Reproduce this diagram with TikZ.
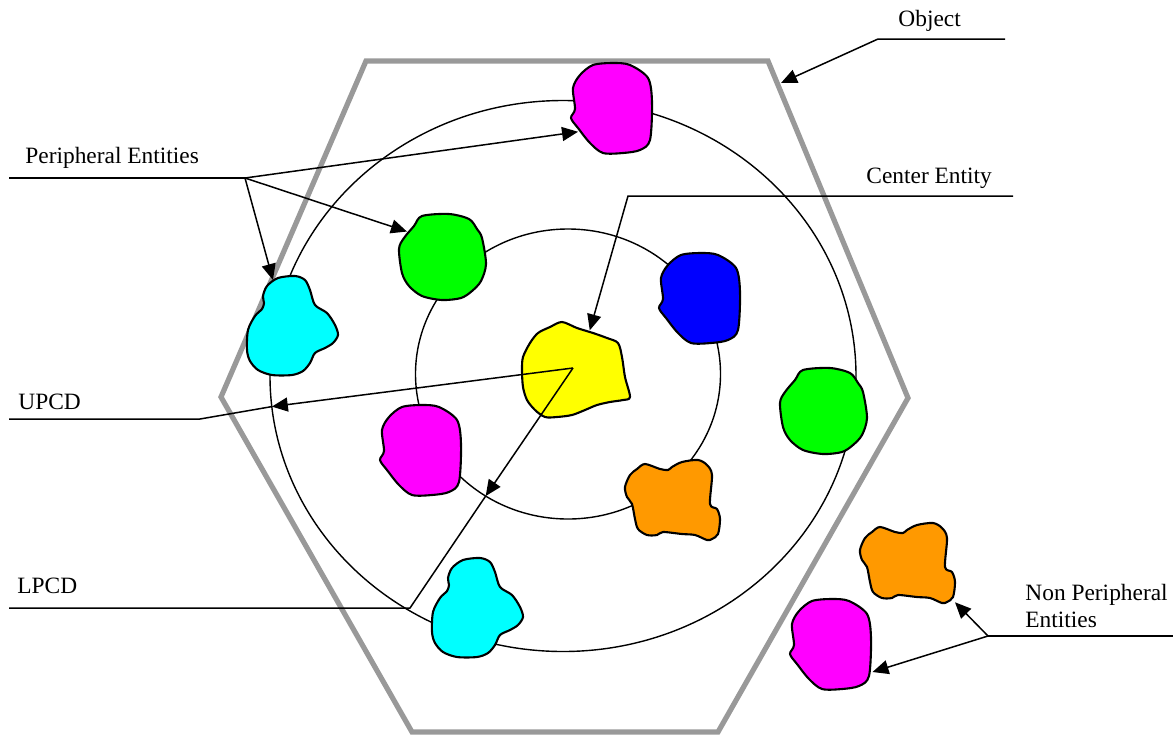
\documentclass[tikz,border=0pt]{standalone}
\usepackage{fontspec}
\setmainfont{Liberation Serif}
\usepackage{tikz}
\usetikzlibrary{arrows.meta,shapes.geometric}
\definecolor{hexgray}{RGB}{153,153,153}
\definecolor{bmagenta}{RGB}{255,0,255}
\definecolor{bgreen}{RGB}{0,255,0}
\definecolor{bcyan}{RGB}{0,255,255}
\definecolor{bblue}{RGB}{0,0,255}
\definecolor{byellow}{RGB}{255,255,0}
\definecolor{borange}{RGB}{255,153,0}
\tikzset{
  hexa/.style    ={draw=hexgray, line width=2.6pt, line join=miter},
  ring/.style    ={ellipse, draw, line width=0.7pt, inner sep=0pt, outer sep=0pt},
  spot/.style    ={ellipse, inner sep=0pt, outer sep=0pt},
  blobline/.style={draw=black, line width=1.05pt, line join=round},
  ar/.style      ={-{Triangle[length=8pt,width=7pt]}, line width=0.75pt},
  ld/.style      ={line width=0.75pt},
  lbl/.style     ={anchor=base west, inner sep=0pt, font=\fontsize{11.7}{14}\selectfont},
  blobA/.pic={\draw[blobline, fill=#1] plot[smooth cycle, tension=0.5] coordinates
    {(-19,-43) (1,-45) (18,-43) (36,-30) (40,-6) (38,32) (28,42) (11,45) (-9,45)
     (-22,35) (-34,20) (-41,10) (-37,1) (-39,-20) (-32,-33)};},
  blobB/.pic={\draw[blobline, fill=#1] plot[smooth cycle, tension=0.5] coordinates
    {(-20,-41) (7,-43) (27,-38) (35,-28) (40,-19) (44,7) (39,24) (30,34) (19,41)
     (0,43) (-20,39) (-33,29) (-40,16) (-43,-8) (-38,-19) (-28,-31)};},
  blobC/.pic={\draw[blobline, fill=#1] plot[smooth cycle, tension=0.5] coordinates
    {(-15,-47) (2,-49) (12,-45) (17,-35) (22,-20) (34,-12) (42,0) (45,10) (40,18)
     (32,23) (22,28) (17,38) (10,46) (-1,50) (-21,50) (-35,45) (-43,36) (-46,25)
     (-45,5) (-38,-9) (-31,-16) (-29,-22) (-30,-29) (-26,-39)};},
  blobY/.pic={\draw[blobline, fill=#1] plot[smooth cycle, tension=0.5] coordinates
    {(-13,-47) (2,-41) (18,-36) (32,-31) (43,-26) (47,-12) (50,8) (55,28) (48,31)
     (35,33) (22,36) (10,41) (-3,46) (-18,48) (-30,48) (-40,41) (-48,31) (-52,18)
     (-53,1) (-52,-12) (-45,-26) (-37,-36) (-25,-42)};},
  blobD/.pic={\draw[blobline, fill=#1] plot[smooth cycle, tension=0.5] coordinates
    {(-27,-35) (-12,-30) (-4,-29) (0,-32) (10,-37) (26,-39) (35,-34) (40,-24)
     (38,5) (45,10) (48,20) (46,35) (40,40) (35,41) (23,36) (10,35) (-9,33)
     (-15,36) (-25,36) (-34,30) (-37,20) (-40,5) (-45,-2) (-47,-12) (-42,-24)
     (-35,-30)};}
}

\begin{document}
\begin{tikzpicture}[x=0.5pt, y=-0.5pt]
\useasboundingbox (0,0) rectangle (1173,735);

% object outline and the two distance rings
\draw[hexa] (366,61) -- (768,61) -- (908,398) -- (718,732) -- (412,732) -- (221,397) -- cycle;
\node[ring, minimum width=293pt, minimum height=275.5pt] (outer) at (563,376) {};
\node[ring, minimum width=152.5pt, minimum height=145pt] (inner) at (568,374) {};

% entities
\node[spot, minimum width=40pt, minimum height=45pt] (magT) at (612,108) {};
\node[spot, minimum width=43.5pt, minimum height=43pt] (gU) at (442,257) {};
\node[spot, minimum width=46pt, minimum height=50pt] (cL) at (293,325) {};
\node[spot, minimum width=50pt, minimum height=40pt] (yel) at (573,368) {};
\node[spot, rectangle, minimum width=48pt, minimum height=40.5pt] (oO) at (907,562) {};
\node[spot, rectangle, minimum width=41.5pt, minimum height=45pt] (mO) at (831,644) {};

\pic at (magT) {blobA=bmagenta};
\pic at (700,298) {blobA=bblue};
\pic at (421,450) {blobA=bmagenta};
\pic at (mO) {blobA=bmagenta};
\pic at (gU) {blobB=bgreen};
\pic at (823,411) {blobB=bgreen};
\pic at (cL) {blobC=bcyan};
\pic at (478,607) {blobC=bcyan};
\pic at (575,369) {blobY=byellow};
\pic at (672,499) {blobD=borange};
\pic at (oO) {blobD=borange};

% labels
\node[lbl] (peLbl) at (25,163) {Peripheral Entities};
\node[lbl] (objLbl) at (898,26) {Object};
\node[lbl] (ceLbl) at (866,183) {Center Entity};
\node[lbl] (upLbl) at (18,409) {UPCD};
\node[lbl] (lpLbl) at (17,593) {LPCD};
\node[lbl] (npLbl) at (1025,600) {Non Peripheral};
\node[lbl] (npLbl2) at (1025,627) {Entities};

\coordinate (peL) at (9,178);     \coordinate (pe) at (245,178);
\coordinate (objR) at (1005,39);  \coordinate (objK) at (878,39);
\coordinate (objTip) at (781,83);
\coordinate (ceR) at (1013,196);  \coordinate (ceK) at (628,196);
\coordinate (upL) at (9,419);     \coordinate (upK) at (200,419);
\coordinate (lpL) at (9,608);     \coordinate (lpK) at (410,608);
\coordinate (npR) at (1173,636);  \coordinate (npK) at (988,636);

% leaders and arrows
\draw[ld] (peL) -- (pe);
\draw[ar] (pe) -- (magT.215);
\draw[ar] (pe) -- (gU.144);
\draw[ar] (pe) -- (cL.114);

\draw[ar] (objR) -- (objK) -- (objTip);
\draw[ar] (ceR) -- (ceK) -- (yel.66);

\draw[ld] (upL) -- (upK) -- (outer.186);
\draw[ar] (yel.center) -- (outer.186);
\draw[ld] (lpL) -- (lpK) -- (inner.236);
\draw[ar] (yel.center) -- (inner.236);

\draw[ld] (npR) -- (npK);
\draw[ar] (npK) -- (oO.320);
\draw[ar] (npK) -- (mO.326);
\end{tikzpicture}
\end{document}
